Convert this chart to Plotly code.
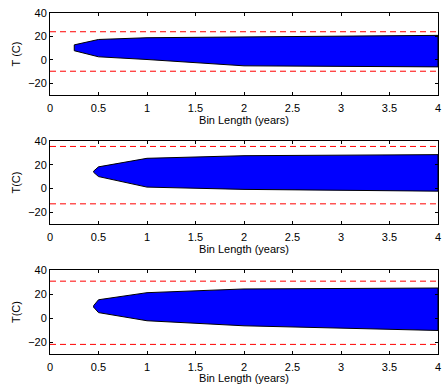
import plotly.graph_objects as go

# ---- data ----
bin_len_1 = [0.25, 0.5, 1, 2, 4]
top_1 = [12.8, 17.4, 18.9, 19.7, 20.9]
bot_1 = [7.8, 2.6, 0.3, -5.1, -6.0]
thr_hi_1 = 24.0
thr_lo_1 = -9.7

bin_len_2 = [0.45, 0.5, 1, 2, 4]
top_2 = [14.6, 18.2, 25.4, 27.6, 28.5]
bot_2 = [13.6, 10.0, 1.1, -0.8, -2.3]
thr_hi_2 = 35.4
thr_lo_2 = -13.0

bin_len_3 = [0.45, 0.5, 1, 2, 4]
top_3 = [10.3, 15.2, 21.1, 24.2, 25.0]
bot_3 = [9.0, 4.5, -2.3, -6.5, -10.4]
thr_hi_3 = 30.7
thr_lo_3 = -22.0

ylabels = ["T (C)", "T(C)", "T(C)"]
xlabel = "Bin Length (years)"
x_ticks = [0, 0.5, 1, 1.5, 2, 2.5, 3, 3.5, 4]
x_ticktext = ["0", "0.5", "1", "1.5", "2", "2.5", "3", "3.5", "4"]
y_ticks = [-20, 0, 20, 40]
y_ticktext = ["\u221220", "0", "20", "40"]

panels = [
    (bin_len_1, top_1, bot_1, thr_hi_1, thr_lo_1),
    (bin_len_2, top_2, bot_2, thr_hi_2, thr_lo_2),
    (bin_len_3, top_3, bot_3, thr_hi_3, thr_lo_3),
]

W, H = 442, 384
# pixel boxes of the panels (top, bottom)
boxes = [(13, 95), (141, 224), (270, 354)]
x_dom = [50 / W, 438 / W]

fig = go.Figure()
font = dict(family="Liberation Sans, Arial, Helvetica, sans-serif", size=11, color="black")

for i, (bl, top, bot, hi, lo) in enumerate(panels):
    sfx = "" if i == 0 else str(i + 1)
    xa, ya = "x" + sfx, "y" + sfx
    fig.add_trace(go.Scatter(
        x=list(bl) + list(bl[::-1]) + [bl[0]],
        y=list(top) + list(bot[::-1]) + [top[0]],
        fill="toself", fillcolor="#0000ff", mode="lines",
        line=dict(color="black", width=1), xaxis=xa, yaxis=ya,
        showlegend=False, hoverinfo="skip"))
    for v in (hi, lo):
        fig.add_trace(go.Scatter(
            x=[0, 4], y=[v, v], mode="lines",
            line=dict(color="#ff0000", width=1, dash="6px,4px"),
            xaxis=xa, yaxis=ya, showlegend=False, hoverinfo="skip"))
    t, b = boxes[i]
    common = dict(showline=True, linecolor="black", linewidth=1, mirror="ticks",
                  ticks="inside", ticklen=3, tickcolor="black", showgrid=False,
                  zeroline=False, tickfont=font, automargin=False)
    fig.update_layout(**{
        "xaxis" + sfx: dict(domain=x_dom, range=[0, 4], anchor=ya,
                            tickvals=x_ticks, ticktext=x_ticktext, ticklabelstandoff=3,
                            title=dict(text=xlabel, font=font, standoff=0), **common),
        "yaxis" + sfx: dict(domain=[1 - b / H, 1 - t / H], range=[-30, 40], anchor=xa,
                            tickvals=y_ticks, ticktext=y_ticktext,
                            title=dict(text=ylabels[i], font=font, standoff=5), **common),
    })

fig.update_layout(width=W, height=H, margin=dict(l=0, r=0, t=0, b=0, autoexpand=False),
                  paper_bgcolor="white", plot_bgcolor="white", font=font)
fig.write_html("out.html", config={"displayModeBar": False},
               post_script="document.body.style.margin='0px';document.body.style.padding='0px';")
